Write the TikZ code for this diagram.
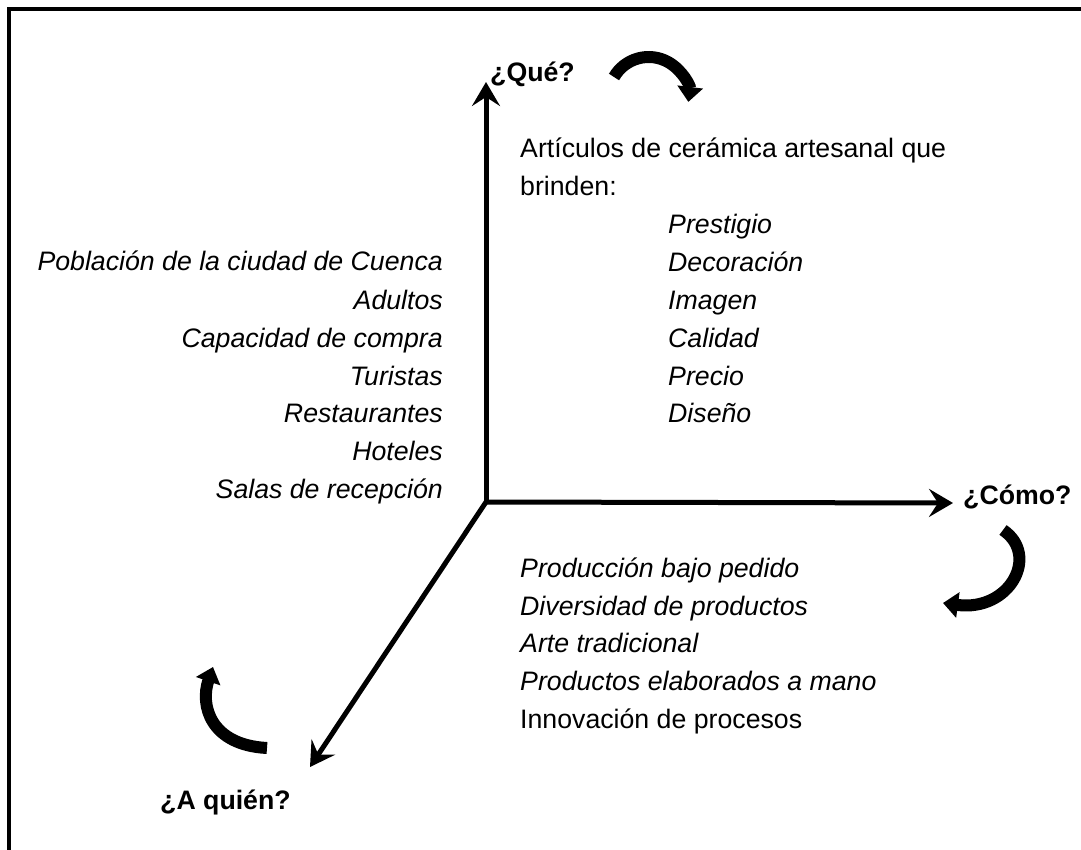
\documentclass[tikz,border=0pt]{standalone}
\usepackage{fontspec}
\setmainfont{Liberation Sans}
\usetikzlibrary{arrows.meta}

\begin{document}
\begin{tikzpicture}[x=1pt,y=1pt,
    axis/.style={draw=black, line width=5pt, -{Stealth[length=24pt,width=28pt,inset=9pt]}},
    turn/.style={draw=black, line width=12pt, -{Triangle[length=15pt,width=25pt]}},
    txt/.style={inner sep=0pt, font=\fontsize{26.7}{38}\selectfont},
    item/.style={txt, font=\fontsize{26.7}{38}\selectfont\itshape},
    question/.style={txt, font=\fontsize{26.7}{38}\selectfont\bfseries}
  ]
  \def\lineskip{37.8}
  \useasboundingbox (0,0) rectangle (1081,-850);

  % frame (only top and left edges show)
  \draw[line width=3.5pt] (9,-850) -- (9,-9) -- (1081,-9);

  % axes
  \coordinate (o) at (486,-502);
  \coordinate (up) at (486,-82);
  \coordinate (right) at (953,-503);
  \coordinate (down) at (310,-767);
  \path[axis] (o) -- (up);
  \path[axis] (o) -- (right);
  \path[axis] (o) -- (down);

  \node[question, anchor=base west] (que) at (490,-82) {¿Qué?};
  \node[question, anchor=base west] (como) at (963,-504) {¿Cómo?};
  \node[question, anchor=base west] (aquien) at (160,-809) {¿A quién?};

  % turning arrows
  \path[turn] (614,-77) arc[start angle=150, end angle=-7, radius=40];
  \path[turn] (1003,-530) .. controls (1040,-555) and (1010,-612) .. (943,-603);
  \path[turn] (267,-748) .. controls (210,-745) and (200,-705) .. (213,-667);

  % what
  \node[txt, anchor=base west] (what-0) at (520,-158) {Artículos de cerámica artesanal que};
  \node[txt, anchor=base west] (what-1) at (520,-196) {brinden:};
  \foreach \t [count=\i from 2] in {Prestigio,Decoración,Imagen,Calidad,Precio,Diseño}
    \node[item, anchor=base west] (what-\i) at (668,-196-\lineskip*\i+\lineskip) {\t};

  % to whom
  \begin{scope}[every node/.style={item, anchor=base east}]
    \node (who-1) at (443,-271) {Población de la ciudad de Cuenca};
    \node (who-2) at (443,-309) {Adultos~};
    \node (who-3) at (443,-347) {Capacidad de compra};
    \node (who-4) at (443,-385) {Turistas};
    \node (who-5) at (443,-422) {Restaurantes~};
    \node (who-6) at (443,-460) {Hoteles};
    \node (who-7) at (443,-498) {Salas de recepción};
  \end{scope}

  % how
  \begin{scope}[every node/.style={item, anchor=base west}]
    \node (how-1) at (520,-577) {Producción bajo pedido};
    \node (how-2) at (520,-615) {Diversidad de productos};
    \node (how-3) at (520,-652) {Arte tradicional};
    \node (how-4) at (520,-690) {Productos elaborados a mano};
    \node[txt, anchor=base west] (how-5) at (520,-728) {Innovación de procesos};
  \end{scope}
\end{tikzpicture}
\end{document}
